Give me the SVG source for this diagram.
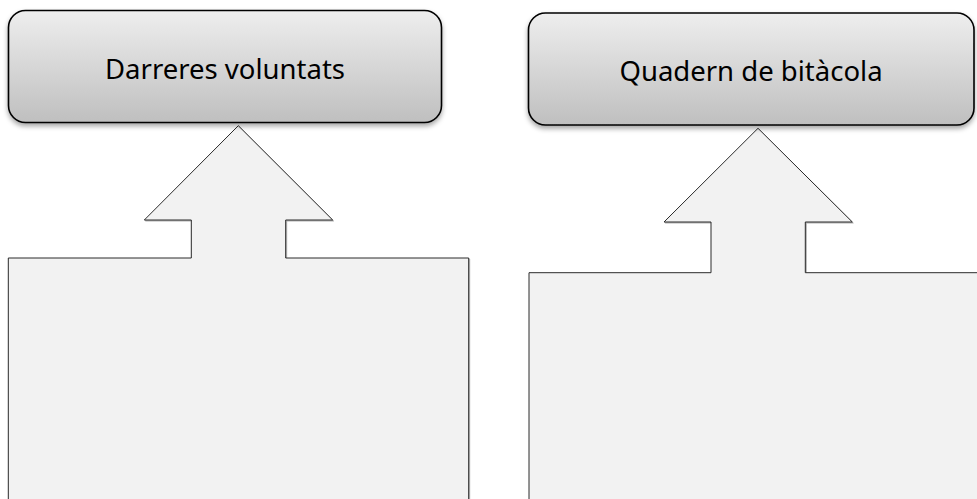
<svg xmlns="http://www.w3.org/2000/svg" width="977" height="499" viewBox="0 0 977 499">
  <defs>
    <linearGradient id="boxGrad" x1="0" y1="0" x2="0" y2="1">
      <stop offset="0" stop-color="#eeeeee"/>
      <stop offset="1" stop-color="#bfbfbf"/>
    </linearGradient>
    <filter id="shadow" x="-5%" y="-10%" width="110%" height="130%">
      <feDropShadow dx="0" dy="3" stdDeviation="2.5" flood-color="#000000" flood-opacity="0.35"/>
    </filter>
    <filter id="shadowLight" x="-5%" y="-5%" width="110%" height="110%">
      <feDropShadow dx="1" dy="1" stdDeviation="0.6" flood-color="#000000" flood-opacity="0.3"/>
    </filter>
  </defs>
  <style>
    .box { fill: url(#boxGrad); stroke: #000000; stroke-width: 1.6; filter: url(#shadow); }
    .label { font-family: "Noto Sans", "Open Sans", "DejaVu Sans", sans-serif; font-size: 27.5px; fill: #000000; text-anchor: middle; }
    .callout { fill: #f2f2f2; stroke: #2a2a2a; stroke-width: 1; filter: url(#shadowLight); }
  </style>
  <rect width="977" height="499" fill="#ffffff"/>

  <g id="callout-left">
    <path class="callout" d="M238.3,125.7 L332.7,220 L285.7,220 L285.7,258 L468.7,258 L468.7,515 L8.3,515 L8.3,258 L191.3,258 L191.3,220 L144.3,220 Z"/>
  </g>
  <g id="callout-right">
    <path class="callout" d="M758,128.3 L852.3,222 L805.3,222 L805.3,272.7 L995,272.7 L995,515 L529,515 L529,272.7 L711,272.7 L711,222 L664,222 Z"/>
  </g>

  <g id="node-darreres">
    <rect class="box" x="8.5" y="10.5" width="433" height="112" rx="17" ry="17"/>
    <text class="label" x="225" y="78.5">Darreres voluntats</text>
  </g>
  <g id="node-quadern">
    <rect class="box" x="528.5" y="13" width="445.5" height="112" rx="17" ry="17"/>
    <text class="label" x="751" y="81">Quadern de bitàcola</text>
  </g>

  <g id="connectors"></g>
</svg>
